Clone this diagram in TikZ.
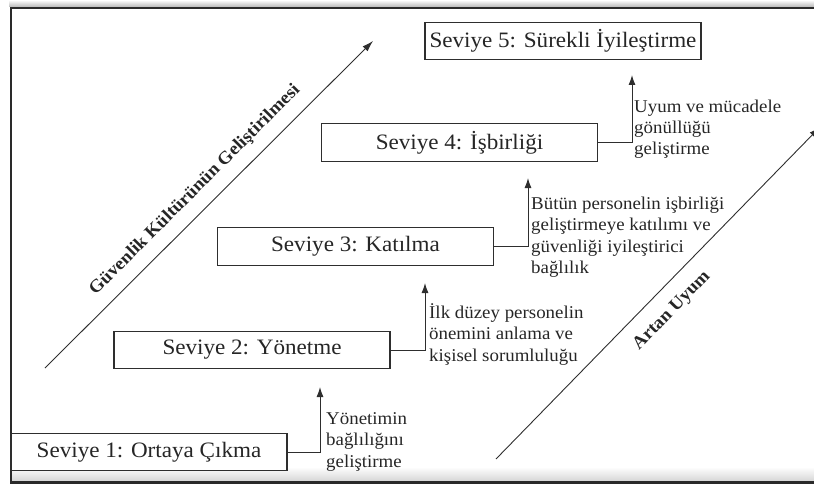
\documentclass[tikz,border=0pt]{standalone}
\usepackage{fontspec}
\setmainfont{Liberation Serif}[FakeStretch=1.05]
\usetikzlibrary{arrows.meta}
\definecolor{ink}{HTML}{262626}
\definecolor{linec}{HTML}{2E2E2E}
\definecolor{framec}{HTML}{2A2A2A}
\begin{document}
\begin{tikzpicture}[x=1pt,y=-1pt,
  level/.style={draw=linec, fill=white, line width=1.1pt, minimum width=276pt,
    minimum height=37.5pt, inner sep=0pt, text=ink,
    font=\fontsize{22}{26}\selectfont},
  note/.style={font=\fontsize{18}{21.5}\selectfont, align=left, inner sep=0pt,
    text=ink, anchor=base west},
  conn/.style={draw=linec, line width=1pt, -{Latex[length=10pt,width=7pt]}},
  axis/.style={draw=linec, line width=0.9pt, -{Latex[length=11pt,width=7pt]}},
  axislabel/.style={font=\bfseries\fontsize{18}{20}\selectfont, text=ink,
    inner sep=0pt, rotate=45}
]
\useasboundingbox (0,0) rectangle (814,484);

% page frame with soft shadow bands
\shade[top color=white, bottom color=black!28] (9,0) rectangle (814,7);
\shade[top color=white, bottom color=black!16] (11,467) rectangle (814,481);
\draw[framec, line width=2.5pt] (814,8) -- (11,8) -- (11,484);
\draw[framec, line width=3pt] (11,482.5) -- (814,482.5);

% the five levels
\node[level] (s1) at (149,452)   {Seviye 1: Ortaya Çıkma};
\node[level] (s2) at (252,350)   {Seviye 2: Yönetme};
\node[level] (s3) at (355.5,246.5) {Seviye 3: Katılma};
\node[level] (s4) at (459.5,142.5) {Seviye 4: İşbirliği};
\node[level] (s5) at (563,41)    {Seviye 5: Sürekli İyileştirme};

% step connectors
\coordinate (t1) at (320,387);
\coordinate (t2) at (425,283);
\coordinate (t3) at (528,178);
\coordinate (t4) at (632,75);
\draw[conn] (s1.east) -| (t1);
\draw[conn] (s2.east) -| (t2);
\draw[conn] (s3.east) -| (t3);
\draw[conn] (s4.east) -| (t4);

% step descriptions (anchored on the baseline of their last line)
\node[note] (n1) at (326,467)   {Yönetimin\\bağlılığını\\geliştirme};
\node[note] (n2) at (429,361)   {İlk düzey personelin\\önemini anlama ve\\kişisel sorumluluğu};
\node[note] (n3) at (531,273.5) {Bütün personelin işbirliği\\geliştirmeye katılımı ve\\güvenliği iyileştirici\\bağlılık};
\node[note] (n4) at (634,155)   {Uyum ve mücadele\\gönüllüğü\\geliştirme};

% diagonal axes
\coordinate (a0) at (45,368);
\coordinate (a1) at (373,41);
\draw[axis] (a0) -- (a1);
\node[axislabel] (lg) at (195,190) {Güvenlik Kültürünün Geliştirilmesi};

\coordinate (b0) at (496,459);
\coordinate (b1) at (820,127);
\begin{scope}
  \clip (0,0) rectangle (814,484);
  \draw[axis] (b0) -- (b1);
\end{scope}
\node[axislabel, rotate=0.8] (lu) at (672,311) {Artan Uyum};
\end{tikzpicture}
\end{document}
